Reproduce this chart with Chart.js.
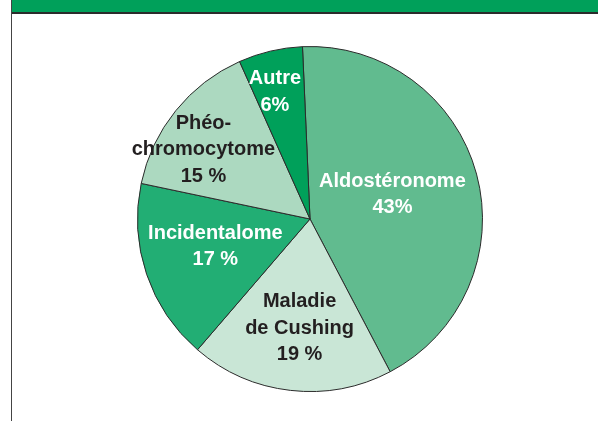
<!DOCTYPE html>
<html>
<head>
<meta charset="utf-8">
<script src="https://cdn.jsdelivr.net/npm/chart.js@4/dist/chart.umd.min.js"></script>
<style>
  html, body { margin: 0; padding: 0; background: #fff; }
  body { width: 598px; height: 421px; position: relative; overflow: hidden; }
  .bandeau { position: absolute; left: 11px; top: 0; width: 587px; height: 12px; background: #00a05a; border-bottom: 2px solid #2b2b2b; z-index: 2; }
  .bord { position: absolute; left: 11px; top: 0; width: 1px; height: 421px; background: #444; z-index: 2; }
  .zone { position: absolute; left: 0; top: 0; width: 598px; height: 421px; }
</style>
</head>
<body>
<div class="zone"><canvas id="camembert"></canvas></div>
<div class="bandeau"></div>
<div class="bord"></div>
<script>
  // donnees
  const categories = ['Aldostéronome', 'Maladie de Cushing', 'Incidentalome', 'Phéochromocytome', 'Autre'];
  const valeurs = [43, 19, 17, 15, 6];
  const lignesEtiquette = [
    ['Aldostéronome'],
    ['Maladie', 'de Cushing'],
    ['Incidentalome'],
    ['Phéo-', 'chromocytome'],
    ['Autre']
  ];
  const separateurPct = ['', ' ', ' ', ' ', ''];

  const couleurs = ['#61bb8f', '#c9e6d6', '#22ae74', '#acd9c0', '#00a05a'];
  const couleursTexte = ['#ffffff', '#231f20', '#ffffff', '#231f20', '#ffffff'];
  // placement des etiquettes : fraction du rayon et decalage angulaire (degres)
  const rayonEtiquette = [0.50, 0.63, 0.57, 0.74, 0.77];
  const decalageAngle = [-2, -1, 3, -5.5, -2];

  const pluginEtiquettes = {
    id: 'etiquettes',
    afterDatasetsDraw(chart) {
      const ctx = chart.ctx;
      const arcs = chart.getDatasetMeta(0).data;
      ctx.save();
      ctx.font = 'bold 20px "Liberation Sans", Arial, sans-serif';
      ctx.textAlign = 'center';
      ctx.textBaseline = 'middle';
      arcs.forEach((arc, i) => {
        const p = arc.getProps(['x', 'y', 'startAngle', 'endAngle', 'outerRadius'], true);
        const milieu = (p.startAngle + p.endAngle) / 2 + decalageAngle[i] * Math.PI / 180;
        const r = p.outerRadius * rayonEtiquette[i];
        const cx = p.x + Math.cos(milieu) * r;
        const cy = p.y + Math.sin(milieu) * r + 1;
        const lignes = lignesEtiquette[i].concat([valeurs[i] + separateurPct[i] + '%']);
        const pas = 26.5;
        const y0 = cy - (lignes.length - 1) * pas / 2;
        ctx.fillStyle = couleursTexte[i];
        lignes.forEach((t, j) => ctx.fillText(t, cx, y0 + j * pas));
      });
      ctx.restore();
    }
  };

  new Chart(document.getElementById('camembert'), {
    type: 'pie',
    data: {
      labels: categories,
      datasets: [{
        data: valeurs,
        backgroundColor: couleurs,
        borderColor: '#2b2b2b',
        borderWidth: 1
      }]
    },
    options: {
      responsive: true,
      maintainAspectRatio: false,
      animation: false,
      rotation: -2.5,
      layout: { padding: { left: 137, right: 115, top: 46, bottom: 29 } },
      plugins: {
        legend: { display: false },
        tooltip: { enabled: false }
      }
    },
    plugins: [pluginEtiquettes]
  });
</script>
</body>
</html>
